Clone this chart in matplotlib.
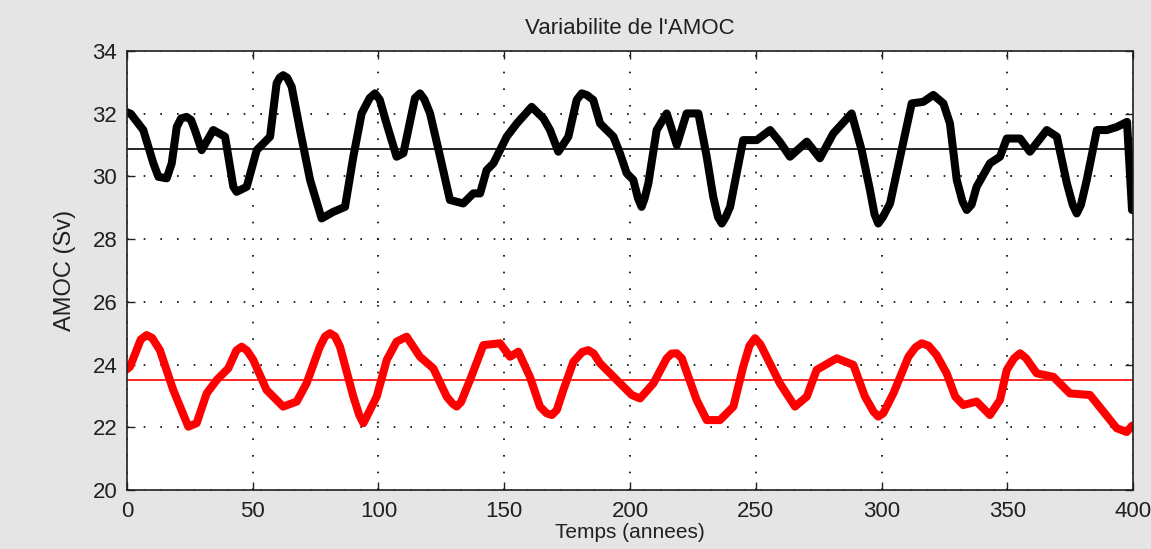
import matplotlib
matplotlib.use("Agg")
import matplotlib.pyplot as plt

# Values (years, Sv)
years_black = [0, 1.5, 6.5, 10.5, 12.5, 15.8, 17.8, 19.8, 21.5, 23.7, 25.5, 27, 29.7,
               34.3, 39, 42.3, 43.6, 47.6, 51.6, 56.9, 59.5, 60.7, 62.1, 63.7, 65.5,
               68.8, 72.8, 77.4, 82, 86.7, 90, 93.3, 96.5, 98.6, 100.5, 103.2, 107.2,
               109.9, 114.5, 116.5, 118.3, 120.5, 124.5, 128.4, 133.7, 137.7, 140.4,
               143, 145.7, 151, 155, 160.9, 165.6, 168.2, 171.5, 175.5, 178.8, 180.8,
               182.8, 185.4, 188.1, 193.4, 196, 198.7, 201.3, 203.2, 204.6, 205.8,
               207.3, 210.6, 214.6, 218.6, 222.5, 227.2, 230.5, 233.1, 235, 236.5,
               238, 239.8, 242.4, 245, 250.4, 255.7, 259.6, 263.6, 270.3, 275.5, 280.8,
               288.1, 292.1, 295.4, 297.2, 298.7, 300.5, 303.4, 307.4, 312, 316.6,
               320.6, 324.6, 327.2, 329.9, 332.2, 333.9, 335.8, 337.8, 343.1, 347.1,
               349.8, 355.1, 359, 365.7, 369.7, 373.7, 376, 377.6, 379.3, 381.6, 385.6,
               389.6, 393.6, 397.6, 399.6]
amoc_black = [32.05, 32.0, 31.48, 30.42, 29.99, 29.94, 30.42, 31.58, 31.85, 31.90, 31.8,
              31.48, 30.84, 31.48, 31.27, 29.67, 29.51, 29.67, 30.84, 31.27, 32.97, 33.15,
              33.23, 33.15, 32.86, 31.48, 29.89, 28.66, 28.87, 29.03, 30.63, 32.01, 32.5,
              32.65, 32.45, 31.69, 30.63, 30.74, 32.5, 32.65, 32.45, 32.01, 30.63, 29.25,
              29.14, 29.46, 29.46, 30.2, 30.42, 31.27, 31.69, 32.22, 31.85, 31.48, 30.79,
              31.27, 32.44, 32.65, 32.6, 32.44, 31.69, 31.27, 30.74, 30.1, 29.89, 29.3,
              29.03, 29.3, 29.78, 31.48, 32.01, 31.0, 32.01, 32.01, 30.63, 29.35, 28.7,
              28.5, 28.7, 29.03, 30.1, 31.16, 31.16, 31.48, 31.1, 30.63, 31.11, 30.58,
              31.37, 32.01, 30.84, 29.57, 28.8, 28.5, 28.7, 29.14, 30.63, 32.33, 32.38,
              32.6, 32.33, 31.69, 29.89, 29.2, 28.93, 29.1, 29.67, 30.42, 30.63, 31.21,
              31.21, 30.79, 31.48, 31.27, 29.78, 29.1, 28.82, 29.1, 29.89, 31.48, 31.48,
              31.58, 31.74, 28.93]

years_red = [0, 1.2, 5.5, 7.8, 10, 13.1, 18.4, 24.4, 27.7, 31.7, 35.7, 40.3, 43.5,
             45.6, 47.7, 50.2, 55.5, 62.1, 67.5, 71.4, 76.7, 78.8, 80.7, 82.7, 84.7,
             90, 92.3, 94, 95.7, 99.3, 103.3, 107.2, 111.2, 116.5, 121.8, 127.1, 129.5,
             131.1, 132.8, 136.4, 141.7, 148.3, 152.3, 155.6, 160.2, 164.2, 166.8,
             168.9, 170.9, 173.5, 177.5, 181, 183.4, 185.6, 188.1, 194.7, 200.7, 204,
             209.3, 214.6, 216.5, 218.6, 220.6, 222.5, 226.5, 230.5, 235.8, 241.1, 245,
             247.5, 249.7, 251.8, 254.3, 259.6, 265.6, 270.3, 274.2, 282.2, 288.8,
             293.4, 296.8, 298.7, 300.7, 304.7, 310.7, 313.5, 316, 318.7, 321.9, 325.9,
             329.3, 332.5, 337.8, 343.1, 347.1, 349.8, 352.7, 355.1, 357.5, 361.7,
             368.3, 374.9, 382.9, 388.2, 393.5, 397.5, 399.6]
amoc_red = [23.85, 23.93, 24.8, 24.94, 24.85, 24.46, 23.19, 22.02, 22.13, 23.08, 23.51,
            23.88, 24.45, 24.57, 24.45, 24.15, 23.19, 22.66, 22.82, 23.40, 24.57, 24.9,
            25.0, 24.9, 24.57, 22.98, 22.4, 22.13, 22.4, 22.98, 24.15, 24.73, 24.89,
            24.25, 23.88, 22.98, 22.75, 22.66, 22.8, 23.51, 24.62, 24.68, 24.25, 24.41,
            23.61, 22.66, 22.45, 22.39, 22.55, 23.19, 24.09, 24.4, 24.46, 24.35, 24.04,
            23.51, 23.03, 22.92, 23.40, 24.20, 24.35, 24.36, 24.2, 23.77, 22.87, 22.23,
            22.23, 22.66, 23.93, 24.6, 24.84, 24.65, 24.25, 23.40, 22.66, 22.98, 23.83,
            24.20, 23.99, 22.98, 22.5, 22.34, 22.45, 23.08, 24.25, 24.55, 24.68, 24.6,
            24.30, 23.72, 22.98, 22.71, 22.82, 22.39, 22.87, 23.83, 24.2, 24.36, 24.2,
            23.72, 23.61, 23.08, 23.03, 22.50, 21.97, 21.85, 22.05]

mean_black = 30.87
mean_red = 23.51

x_ticks = [0, 50, 100, 150, 200, 250, 300, 350, 400]
y_ticks = [20, 22, 24, 26, 28, 30, 32, 34]

plt.rcParams['font.family'] = ['Liberation Sans', 'DejaVu Sans']

fig = plt.figure(figsize=(11.51, 5.49), dpi=100, facecolor='#e5e5e5')
ax = fig.add_axes([0.1103, 0.1075, 0.8741, 0.7995])
ax.set_facecolor('white')

ax.plot(years_black, amoc_black, color='black', linewidth=5.8,
        solid_joinstyle='round', solid_capstyle='round')
ax.plot(years_red, amoc_red, color='red', linewidth=5.8,
        solid_joinstyle='round', solid_capstyle='round')
ax.axhline(mean_black, color='black', linewidth=1.2)
ax.axhline(mean_red, color='red', linewidth=1.2)

ax.set_xlim(0, 400)
ax.set_ylim(20, 34)
ax.set_xticks(x_ticks)
ax.set_yticks(y_ticks)
ax.grid(True, color='black', linestyle=(0, (1, 9)), linewidth=1.2)
ax.tick_params(direction='in', length=6, width=1, top=True, right=True,
               labelsize=16, colors='#202020')
ax.tick_params(axis='x', pad=8)
ax.tick_params(axis='y', pad=7)
for s in ax.spines.values():
    s.set_linewidth(1.2)
    s.set_color('#202020')

ax.set_title("Variabilite de l'AMOC", fontsize=16, pad=12, color='#202020')
ax.set_xlabel("Temps (annees)", fontsize=15, labelpad=1, color='#202020')
ax.set_ylabel("AMOC (Sv)", fontsize=17, labelpad=12, color='#202020')

fig.savefig("out.png", dpi=100, facecolor=fig.get_facecolor())
